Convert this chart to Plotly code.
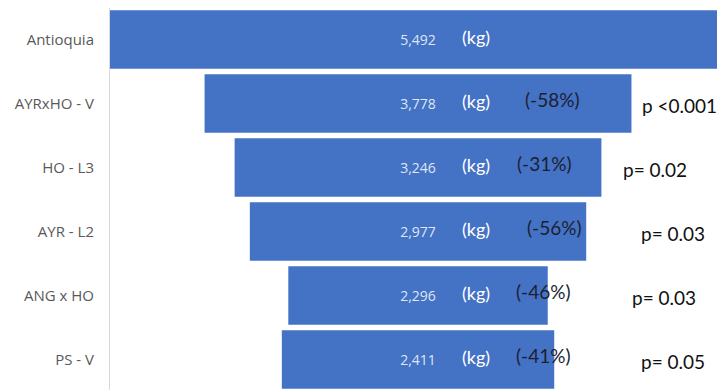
import plotly.graph_objects as go

# Average yield per group (kg), with change vs. reference and significance
categories = ["Antioquia", "AYRxHO - V", "HO - L3", "AYR - L2", "ANG x HO", "PS - V"]
yields_kg = [5492, 3778, 3246, 2977, 2296, 2411]
change_pct = [None, -58, -31, -56, -46, -41]
p_labels = [None, "p <0.001", "p= 0.02", "p= 0.03", "p= 0.03", "p= 0.05"]

BAR_BLUE = "#4472c4"
# horizontal pixel nudges for the side labels of each row
p_nudge = [0, 222, 203, 221, 212, 221]
pct_nudge = [0, 134, 126, 136, 125, 125]

fig = go.Figure(
    go.Funnel(
        y=categories,
        x=yields_kg,
        width=0.915,
        marker=dict(color=BAR_BLUE, line=dict(width=0)),
        connector=dict(visible=False),
        texttemplate="%{x:,}",
        textposition="inside",
        insidetextanchor="middle",
        textfont=dict(family="Open Sans", size=14, color="#dfe6f4"),
        hoverinfo="skip",
    )
)

annotations = []
for i, (cat, pct, p) in enumerate(zip(categories, change_pct, p_labels)):
    # unit label next to the value
    annotations.append(dict(
        x=0, y=cat, xref="x", yref="y", text="(kg)", showarrow=False,
        xshift=58, yshift=2,
        font=dict(family="Lato", size=18, color="#ffffff"),
    ))
    if pct is not None:
        annotations.append(dict(
            x=0, y=cat, xref="x", yref="y", text=f"({pct}%)", showarrow=False,
            xshift=pct_nudge[i], yshift=4,
            font=dict(family="Lato", size=19, color="#1c1f33"),
        ))
    if p is not None:
        annotations.append(dict(
            x=0, y=cat, xref="x", yref="y", text=p, showarrow=False,
            xanchor="left", xshift=p_nudge[i], yshift=-2,
            font=dict(family="Lato", size=19, color="#111111"),
        ))

fig.update_layout(
    width=717,
    height=390,
    margin=dict(l=110, r=0, t=8, b=0),
    paper_bgcolor="white",
    plot_bgcolor="white",
    showlegend=False,
    annotations=annotations,
    xaxis=dict(visible=False, range=[-2726, 2646], fixedrange=True),
    yaxis=dict(
        categoryorder="array",
        categoryarray=categories,
        range=[5.477, -0.492],
        showline=True,
        linecolor="#d9d9d9",
        linewidth=1,
        showgrid=False,
        zeroline=False,
        ticks="",
        ticklabelstandoff=12,
        tickfont=dict(family="Open Sans", size=15, color="#595959"),
    ),
)

fig.write_html("out.html")
